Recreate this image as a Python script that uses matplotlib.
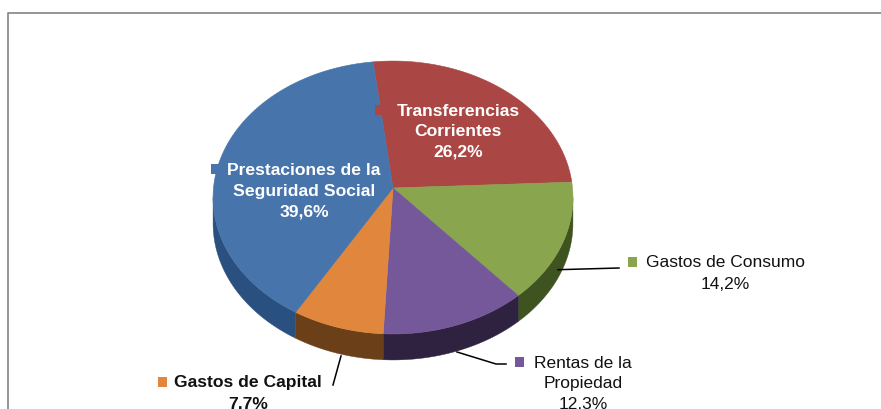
import numpy as np
import matplotlib
matplotlib.use("Agg")
import matplotlib.pyplot as plt
from matplotlib.patches import Rectangle

categories = ["Transferencias\nCorrientes", "Gastos de Consumo", "Rentas de la\nPropiedad", "Gastos de Capital", "Prestaciones de la\nSeguridad Social"]
values = [26.2, 14.2, 12.3, 7.7, 39.6]
value_labels = ["26,2%", "14,2%", "12,3%", "7,7%", "39,6%"]
top_colors = ["#AA4643", "#89A54E", "#75589A", "#E0873D", "#4674AB"]
side_colors = ["#6E2B29", "#3F5320", "#2E2240", "#6B3F17", "#2A5080"]

W, H = 881, 410
fig = plt.figure(figsize=(W/100, H/100), dpi=100)
ax = fig.add_axes([0, 0, 1, 1])
ax.set_xlim(0, W); ax.set_ylim(H, 0); ax.axis("off")
fam = ['Liberation Sans', 'DejaVu Sans']
plt.rcParams['font.family'] = fam

# frame
ax.plot([7.5, 7.5, W+2], [H+2, 13.5, 13.5], color="#8C8C8C", lw=1.3, solid_capstyle="butt")

ax_x, ax_y = 393, 189       # pie apex
A, B, k, depth = 179.5, 135.8, 0.0696, 26
start = -6.8

def rim(t):
    """Perspective projection of the pie's circular rim."""
    r = np.radians(t)
    d = 1 + k*np.cos(r)
    return ax_x + A*np.sin(r)/d, ax_y - B*np.cos(r)/d

edges = start + np.concatenate([[0], np.cumsum(values)]) * 360 / sum(values)

# side wall
for i in range(len(values)):
    a, b = edges[i], edges[i+1]
    a2, b2 = max(a, 94), min(b, 266)
    if a2 >= b2:
        continue
    t = np.linspace(a2, b2, 80)
    x, y = rim(t)
    ax.fill(np.r_[x, x[::-1]], np.r_[y, y[::-1] + depth], color=side_colors[i], lw=0.3, zorder=2)

# top surface
for i in range(len(values)):
    t = np.linspace(edges[i], edges[i+1], 120)
    x, y = rim(t)
    ax.fill(np.r_[ax_x, x], np.r_[ax_y, y], color=top_colors[i], lw=0.4, zorder=3)

def label(xc, ys, lines, color, weight, key_xy, key_color):
    for yy, s in zip(ys, lines):
        ax.text(xc, yy + 1, s, color=color, fontweight=weight, fontsize=12.6 if weight == "bold" else 12.5,
                ha="center", va="center", zorder=5, family=fam)
    ax.add_patch(Rectangle(key_xy, 9, 10, color=key_color, lw=0, zorder=5))

label(458, [111, 131, 151], ["Transferencias", "Corrientes", value_labels[0]], "white", "bold", (375, 106), top_colors[0])
label(304, [170, 191, 211], ["Prestaciones de la", "Seguridad Social", value_labels[4]], "white", "bold", (211, 165), top_colors[4])
label(725, [262, 284], ["Gastos de Consumo", value_labels[1]], "#111111", "normal", (628, 258), top_colors[1])
label(583, [363, 383, 404], ["Rentas de la", "Propiedad", value_labels[2]], "#111111", "normal", (515, 358), top_colors[2])
label(248, [382, 403], ["Gastos de Capital", value_labels[3]], "#111111", "bold", (158, 378), top_colors[3])

# leader lines
ax.plot([558, 619], [270.7, 269], color="black", lw=1.1, zorder=4)
ax.plot([457, 496, 506], [353, 365, 365], color="black", lw=1.1, zorder=4)
ax.plot([341, 333], [357, 386], color="black", lw=1.1, zorder=4)

fig.savefig("out.png", dpi=100)
